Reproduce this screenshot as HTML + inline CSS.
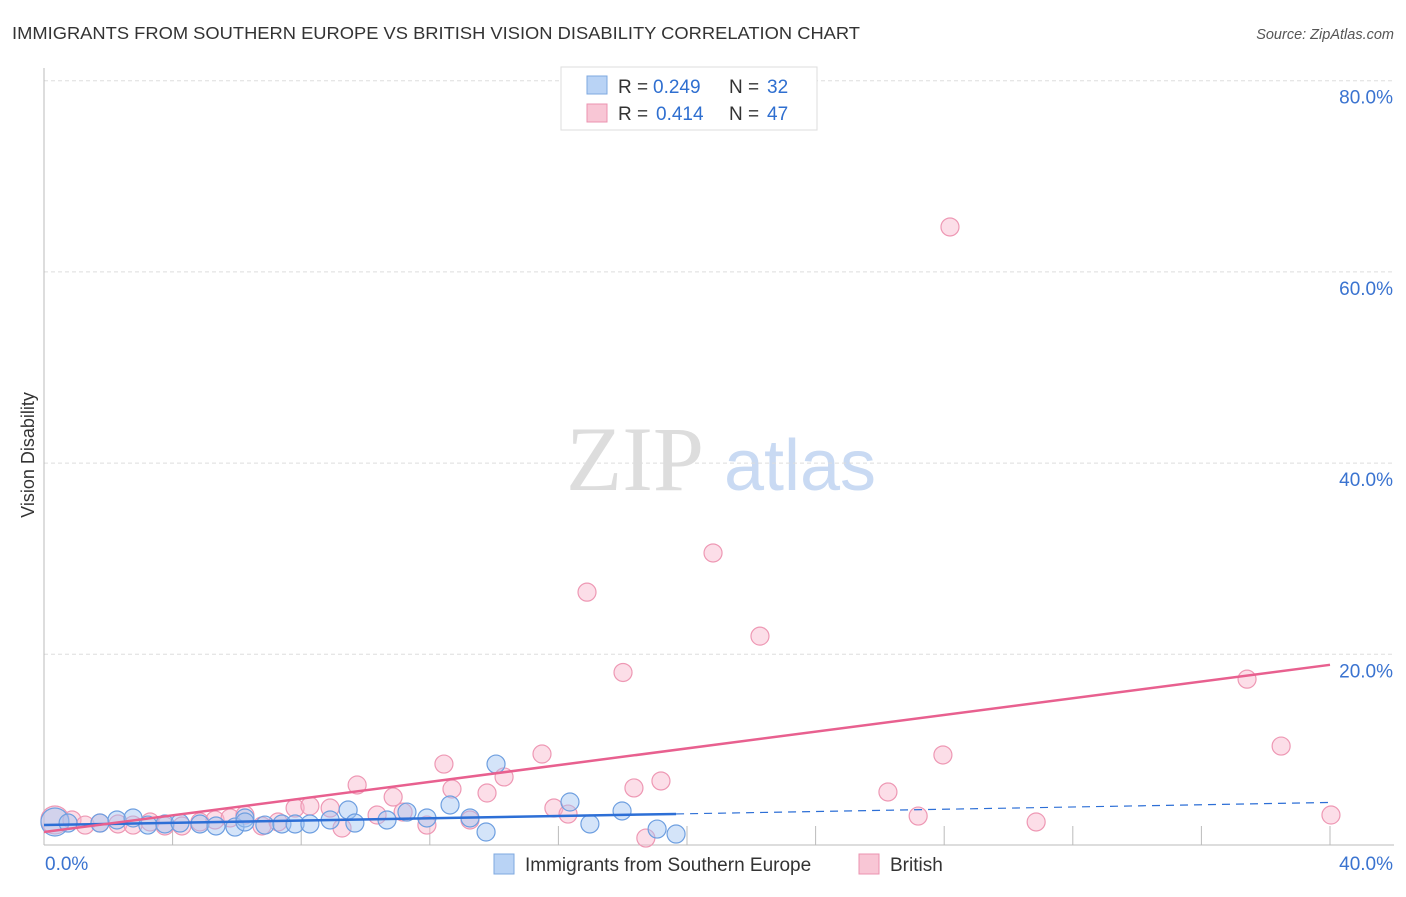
<!DOCTYPE html>
<html><head><meta charset="utf-8"><style>
body{margin:0;background:#fff;font-family:"Liberation Sans",sans-serif}
</style></head><body>
<svg id="c" width="1406" height="892" xmlns="http://www.w3.org/2000/svg" style="font-family:'Liberation Sans',sans-serif">
<text x="12" y="39" font-size="17.5" fill="#333" textLength="848" lengthAdjust="spacingAndGlyphs">IMMIGRANTS FROM SOUTHERN EUROPE VS BRITISH VISION DISABILITY CORRELATION CHART</text>
<text x="1394" y="39" font-size="14.5" fill="#555" font-style="italic" text-anchor="end">Source: ZipAtlas.com</text>
<text x="34" y="455" font-size="18" fill="#333" transform="rotate(-90 34 455)" text-anchor="middle">Vision Disability</text>
<g><text x="635" y="490" font-size="92" fill="#ddd" font-family="Liberation Serif" text-anchor="middle">ZIP</text><text x="800" y="490" font-size="72" fill="#c9daf3" text-anchor="middle">atlas</text></g>
<g id="grid"></g><g id="axes"></g><g id="pts"></g><g id="lines"></g>
<g>
<rect x="561" y="67" width="256" height="63" fill="#fff" stroke="#ddd"/>
<rect x="587" y="76" width="20" height="18" fill="#b9d3f5" stroke="#7ea8e0"/>
<text x="618" y="93" font-size="19" fill="#333">R = </text><text x="653" y="93" font-size="19" fill="#2f6fd0">0.249</text>
<text x="729" y="93" font-size="19" fill="#333">N = </text><text x="767" y="93" font-size="19" fill="#2f6fd0">32</text>
<rect x="587" y="104" width="20" height="18" fill="#f8c6d5" stroke="#eb93b0"/>
<text x="618" y="120" font-size="19" fill="#333">R = </text><text x="656" y="120" font-size="19" fill="#2f6fd0">0.414</text>
<text x="729" y="120" font-size="19" fill="#333">N = </text><text x="767" y="120" font-size="19" fill="#2f6fd0">47</text>
</g>
<g>
<rect x="494" y="854" width="20" height="20" fill="#b9d3f5" stroke="#7ea8e0"/>
<text x="525" y="871" font-size="19" fill="#333">Immigrants from Southern Europe</text>
<rect x="859" y="854" width="20" height="20" fill="#f8c6d5" stroke="#eb93b0"/>
<text x="890" y="871" font-size="19" fill="#333">British</text>
</g>
</svg>
<script>
const blueX=[0.34,0.75,1.74,2.27,2.77,3.23,3.76,4.23,4.85,5.35,5.94,6.25,6.87,7.40,7.81,8.27,8.90,9.46,9.67,10.67,11.29,11.91,12.63,13.25,13.75,14.06,16.36,16.98,17.98,19.07,19.66,6.25];
const blueY=[2.46,2.35,2.35,2.67,2.88,2.14,2.25,2.35,2.25,2.04,1.93,2.88,2.14,2.25,2.25,2.25,2.67,3.71,2.35,2.67,3.50,2.88,4.24,2.88,1.41,8.52,4.55,2.25,3.61,1.72,1.20,2.46];
const pinkX=[0.34,0.87,1.28,1.74,2.30,2.77,3.30,3.76,4.29,4.85,5.32,5.79,6.25,6.78,7.28,7.81,8.27,8.90,9.27,9.74,10.36,10.86,11.17,11.91,12.44,12.69,13.25,13.78,14.31,15.49,15.86,16.30,16.89,18.01,18.35,18.72,19.19,20.81,22.27,26.25,27.19,27.96,28.18,30.86,37.42,38.48,40.03];
const pinkY=[2.67,2.67,2.14,2.35,2.25,2.14,2.46,2.04,2.04,2.46,2.67,2.88,3.19,2.04,2.46,3.92,4.13,3.92,1.83,6.33,3.19,5.07,3.50,2.14,8.52,5.91,2.67,5.49,7.17,9.57,3.92,3.29,26.5,18.1,6.02,0.78,6.75,30.6,21.9,5.60,3.08,9.47,64.7,2.46,17.4,10.4,3.19];
const blueTrend=[2.14,4.5];   // y at x=0 and x=40
const pinkTrend=[1.41,18.9];
const yTicks=[20,40,60,80];
const xTickLabels=["0.0%","40.0%"];
const NS="http://www.w3.org/2000/svg";
const X=v=>44+v*32.15, Y=v=>845.5-v*9.56;
function mk(t,a,p){const e=document.createElementNS(NS,t);for(const k in a)e.setAttribute(k,a[k]);document.getElementById(p).appendChild(e);return e;}
yTicks.forEach(t=>{
 const l=mk('line',{x1:44,x2:1394,y1:Y(t),y2:Y(t),stroke:'#ddd','stroke-dasharray':'4 3'},'grid');
 
 
 const tx=mk('text',{x:1393,y:Y(t)+23,'font-size':19,fill:'#3a73d0','text-anchor':'end'},'grid');
 tx.textContent=t.toFixed(1)+'%';
 
 
});
let ax=mk('line',{x1:44,x2:44,y1:68,y2:845,stroke:'#bbb'},'axes');

ax=mk('line',{x1:44,x2:1394,y1:845,y2:845,stroke:'#bbb'},'axes');

for(let i=1;i<=10;i++){const t=mk('line',{x1:X(i*4),x2:X(i*4),y1:826,y2:845,stroke:'#bbb'},'axes');
 
 }
[[0,'start',45],[40,'end',1393]].forEach((d,i)=>{const t=mk('text',{x:d[2],y:870,'font-size':19,fill:'#3a73d0','text-anchor':d[1]},'axes');t.textContent=xTickLabels[i];
 
 });
function pts(xs,ys,fill,stroke,name){xs.forEach((x,i)=>{const c=mk('circle',{cx:X(x),cy:Y(ys[i]),r:i==0?14:9,fill:fill,stroke:stroke,'stroke-width':1.2},'pts');
 
 });}
pts(pinkX,pinkY,'rgba(248,182,204,0.45)','#ee98b4','british-point');
pts(blueX,blueY,'rgba(160,196,242,0.45)','#6e9fe0','immigrants-point');
const bm=blueTrend[0]+(blueTrend[1]-blueTrend[0])*(Math.max(...blueX)/40);
let l=mk('line',{x1:X(0),y1:Y(blueTrend[0]),x2:X(Math.max(...blueX)),y2:Y(bm),stroke:'#2d6fd6','stroke-width':2.5},'lines');

l=mk('line',{x1:X(Math.max(...blueX)),y1:Y(bm),x2:X(40),y2:Y(blueTrend[1]),stroke:'#2d6fd6','stroke-width':1.2,'stroke-dasharray':'8 6'},'lines');

l=mk('line',{x1:X(0),y1:Y(pinkTrend[0]),x2:X(40),y2:Y(pinkTrend[1]),stroke:'#e8608f','stroke-width':2.5},'lines');

</script>
</body></html>
